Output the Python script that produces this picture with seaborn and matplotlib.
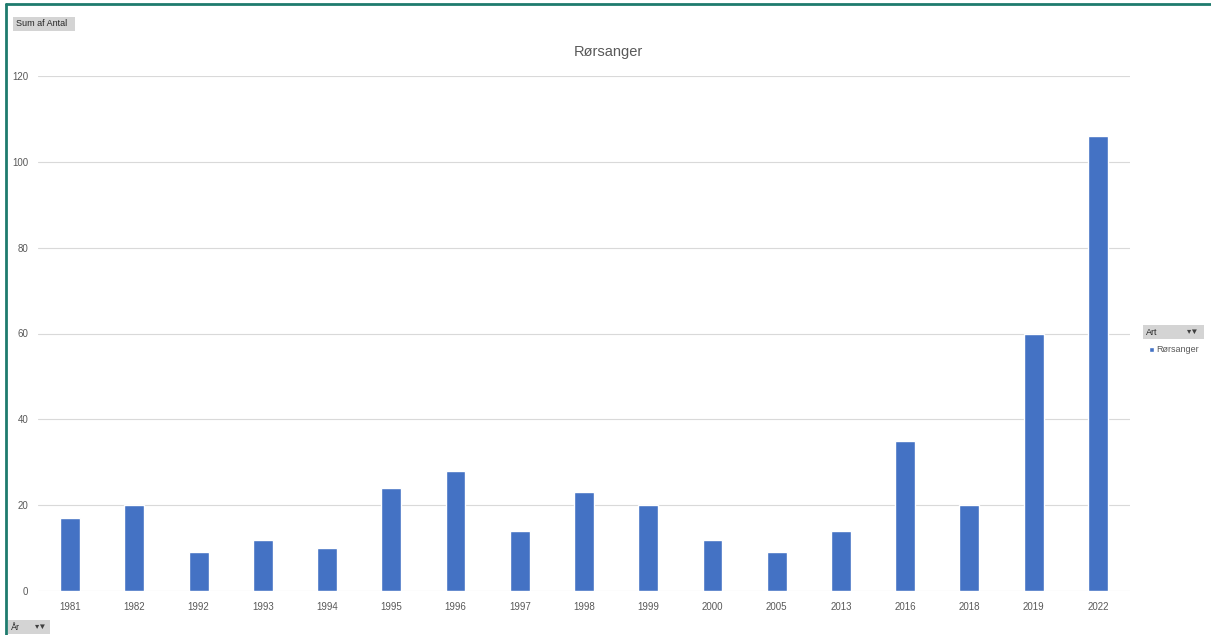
import matplotlib.pyplot as plt
import seaborn as sns
import pandas as pd
from matplotlib.patches import Rectangle
from matplotlib.lines import Line2D

years = ['1981', '1982', '1992', '1993', '1994', '1995', '1996', '1997', '1998',
         '1999', '2000', '2005', '2013', '2016', '2018', '2019', '2022']
antal = [17, 20, 9, 12, 10, 24, 28, 14, 23, 20, 12, 9, 14, 35, 20, 60, 106]
art = 'Rørsanger'

df = pd.DataFrame({'År': years, 'Antal': antal})

sns.set_style('white')
plt.rcParams['font.family'] = ['Liberation Sans', 'DejaVu Sans']

W, H = 1211, 635
fig = plt.figure(figsize=(W / 100, H / 100), dpi=100)
ax = fig.add_axes([38 / W, 1 - 591 / H, (1130 - 38) / W, (591 - 76) / H])

sns.barplot(data=df, x='År', y='Antal', color='#4472C4', width=0.31,
            saturation=1, ax=ax, zorder=3)

ax.set_ylim(0, 120)
ax.set_yticks(range(0, 121, 20))
ax.set_xlim(-0.5, len(years) - 0.5)
ax.grid(axis='y', color='#d9d9d9', linewidth=0.8, zorder=0)
for s in ax.spines.values():
    s.set_visible(False)
ax.tick_params(axis='both', length=0, labelsize=7, labelcolor='#595959')
ax.tick_params(axis='y', pad=7)
ax.tick_params(axis='x', pad=8)
ax.set_xlabel('')
ax.set_ylabel('')
fig.text(0.502, 1 - 52 / H, art, fontsize=10.5, color='#595959', ha='center', va='center')

# outer frame (selected chart): left and top only
frame = dict(color='#1e7b6e', linewidth=2, transform=fig.transFigure)
fig.lines.append(Line2D([6 / W, 6 / W], [0, 1 - 4 / H], **frame))
fig.lines.append(Line2D([6 / W, 1], [1 - 4 / H, 1 - 4 / H], **frame))

# pivot field buttons
def button(x0, y0, x1, y1, text):
    fig.patches.append(Rectangle((x0 / W, 1 - y1 / H), (x1 - x0) / W, (y1 - y0) / H,
                                 transform=fig.transFigure, facecolor='#d4d4d4',
                                 edgecolor='none'))
    fig.text((x0 + 3) / W, 1 - ((y0 + y1) / 2) / H, text, fontsize=6.5,
             color='#262626', va='center', ha='left')

button(13, 17, 75, 31, 'Sum af Antal')
button(1143, 325, 1204, 339, 'Art')
fig.text(1193 / W, 1 - 332 / H, '▾▼', fontsize=6, color='#404040', va='center', ha='center')
button(8, 620, 50, 634, 'År')
fig.text(41 / W, 1 - 627 / H, '▾▼', fontsize=6, color='#404040', va='center', ha='center')

# legend
fig.patches.append(Rectangle((1149 / W, 1 - 352 / H), 5 / W, 5 / H,
                             transform=fig.transFigure, facecolor='#4472C4'))
fig.text(1156 / W, 1 - 349.5 / H, art, fontsize=6.5, color='#595959', va='center')

fig.savefig('out.png', dpi=100)
